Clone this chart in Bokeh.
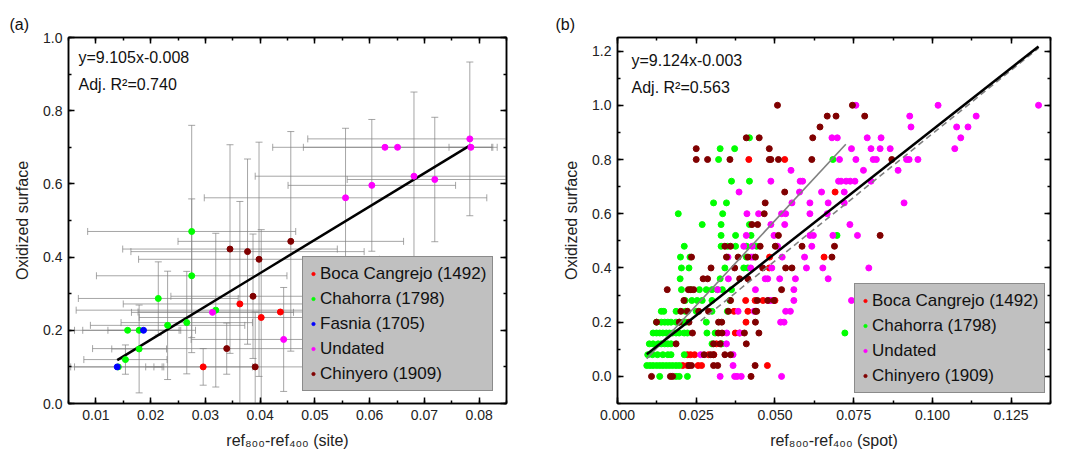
import math
from bokeh.plotting import figure
from bokeh.models import (Label, LinearAxis, SingleIntervalTicker, Range1d,
                          NumeralTickFormatter)
from bokeh.layouts import row
from bokeh.embed import file_html
from bokeh.resources import INLINE

FONT = "Liberation Sans"

# ---------------- panel (a): site means with error bars ----------------
boca_site_x = [0.0296, 0.0363, 0.0402, 0.0437]
boca_site_y = [0.100, 0.272, 0.235, 0.250]
boca_site_xerr = [0.009, 0.0213, 0.0223, 0.026]
boca_site_yerr = [0.05, 0.28, 0.24, 0.0]

chahorra_site_x = [0.0141, 0.0154, 0.0158, 0.0179, 0.0179, 0.0214, 0.0231, 0.0266, 0.0275, 0.0275, 0.0319]
chahorra_site_y = [0.100, 0.120, 0.200, 0.200, 0.149, 0.287, 0.2135, 0.221, 0.349, 0.470, 0.255]
chahorra_site_xerr = [0.008, 0.0076, 0.0097, 0.0103, 0.005, 0.0146, 0.0141, 0.012, 0.0174, 0.019, 0.0255]
chahorra_site_yerr = [0.0, 0.04, 0.0, 0.0, 0.12, 0.10, 0.148, 0.14, 0.21, 0.29, 0.21]

fasnia_site_x = [0.0139, 0.0187]
fasnia_site_y = [0.100, 0.200]
fasnia_site_xerr = [0.0085, 0.0065]
fasnia_site_yerr = [0.0, 0.0]

undated_site_x = [0.0313, 0.0443, 0.0556, 0.0604, 0.0628, 0.0651, 0.0681, 0.0719, 0.0783, 0.0785]
undated_site_y = [0.249, 0.175, 0.562, 0.596, 0.700, 0.700, 0.621, 0.612, 0.723, 0.700]
undated_site_xerr = [0.0148, 0.0169, 0.0258, 0.0153, 0.0205, 0.0172, 0.029, 0.016, 0.0296, 0.004]
undated_site_yerr = [0.0, 0.142, 0.19, 0.18, 0.0, 0.0, 0.23, 0.17, 0.21, 0.0]

chinyero_site_x = [0.0339, 0.0345, 0.0377, 0.0387, 0.0391, 0.0398, 0.0456]
chinyero_site_y = [0.150, 0.422, 0.415, 0.293, 0.100, 0.394, 0.443]
chinyero_site_xerr = [0.0245, 0.0196, 0.0213, 0.015, 0.02, 0.022, 0.0206]
chinyero_site_yerr = [0.07, 0.285, 0.253, 0.17, 0.15, 0.32, 0.30]

site_fit_slope = 9.105
site_fit_intercept = -0.008

# ---------------- panel (b): individual spots (rows of equal y) ----------------
boca_spot = [
    (0.80, [0.0417, 0.0531]),
    (0.68, [0.0691]),
    (0.44, [0.0483, 0.0656]),
    (0.40, [0.0482]),
    (0.28, [0.0407, 0.0437, 0.0462, 0.0500]),
    (0.24, [0.0370, 0.0414]),
    (0.20, [0.0408]),
    (0.16, [0.0374, 0.0388]),
    (0.12, [0.0314, 0.0329]),
    (0.08, [0.0222, 0.0232, 0.0245, 0.0289, 0.0306]),
    (0.04, [0.0207, 0.0222, 0.0256, 0.0267, 0.0476]),
]

chahorra_spot = [
    (0.88, [0.0419]),
    (0.84, [0.0326, 0.0372]),
    (0.80, [0.0321, 0.0684]),
    (0.72, [0.0362, 0.0419]),
    (0.64, [0.0305, 0.0346]),
    (0.60, [0.0193, 0.0334]),
    (0.56, [0.0269, 0.0329, 0.0419]),
    (0.52, [0.0329, 0.0375, 0.0424, 0.0697]),
    (0.48, [0.0212, 0.0329, 0.0350, 0.0375, 0.0410, 0.0442]),
    (0.44, [0.0200, 0.0230, 0.0409]),
    (0.40, [0.0203, 0.0227, 0.0341, 0.0401, 0.0414]),
    (0.36, [0.0199, 0.0326]),
    (0.32, [0.0203, 0.0232, 0.0260, 0.0282, 0.0300, 0.0317, 0.0333, 0.0362]),
    (0.28, [0.0215, 0.0236, 0.0253, 0.0269, 0.0300, 0.0357]),
    (0.24, [0.0139, 0.0147, 0.0186, 0.0215, 0.0250, 0.0300, 0.0349]),
    (0.20, [0.0124, 0.0139, 0.0150, 0.0160, 0.0170, 0.0186, 0.0196, 0.0207, 0.0217, 0.0282]),
    (0.16, [0.0113, 0.0124, 0.0134, 0.0144, 0.0155, 0.0165, 0.0175, 0.0186, 0.0196, 0.0212,
            0.0222, 0.0284, 0.0310, 0.0722]),
    (0.12, [0.0101, 0.0113, 0.0129, 0.0139, 0.0150, 0.0160, 0.0170, 0.0300, 0.0331]),
    (0.08, [0.0096, 0.0111, 0.0127, 0.0144, 0.0160, 0.0170, 0.0212]),
    (0.04, [0.0093, 0.0103, 0.0113, 0.0124, 0.0134, 0.0144, 0.0155, 0.0165, 0.0175, 0.0186, 0.0196]),
    (0.00, [0.0134, 0.0186, 0.0196, 0.0222]),
]

undated_spot = [
    (1.00, [0.0757, 0.1018, 0.1337]),
    (0.96, [0.0928, 0.1139]),
    (0.92, [0.0932, 0.1077, 0.1113]),
    (0.88, [0.0681, 0.0698, 0.0793, 0.0837, 0.1090]),
    (0.84, [0.0743, 0.0805, 0.0834, 0.0866, 0.1071]),
    (0.80, [0.0705, 0.0757, 0.0812, 0.0822, 0.0918, 0.0926, 0.0954]),
    (0.76, [0.0551, 0.0781, 0.0891]),
    (0.72, [0.0487, 0.0580, 0.0588, 0.0702, 0.0710, 0.0726, 0.0739, 0.0754, 0.0805]),
    (0.68, [0.0386, 0.0578, 0.0648, 0.0720]),
    (0.64, [0.0554, 0.0611, 0.0669, 0.0720, 0.0910]),
    (0.60, [0.0411, 0.0448, 0.0521, 0.0534, 0.0611, 0.0666]),
    (0.56, [0.0487, 0.0531, 0.0738]),
    (0.52, [0.0409, 0.0497, 0.0611, 0.0622, 0.0684, 0.0762]),
    (0.48, [0.0401, 0.0428, 0.0508, 0.0617]),
    (0.44, [0.0351, 0.0424, 0.0431, 0.0523, 0.0594]),
    (0.40, [0.0423, 0.0490, 0.0600, 0.0652, 0.0798]),
    (0.36, [0.0352, 0.0469, 0.0477, 0.0515, 0.0565, 0.0669]),
    (0.32, [0.0318, 0.0438, 0.0560]),
    (0.28, [0.0480, 0.0487, 0.0560, 0.0743]),
    (0.24, [0.0383, 0.0434, 0.0534, 0.0549]),
    (0.20, [0.0518, 0.0529]),
    (0.16, [0.0347, 0.0388]),
    (0.12, [0.0346]),
    (0.08, [0.0264, 0.0367]),
    (0.04, [0.0367]),
    (0.00, [0.0326, 0.0372, 0.0380, 0.0393, 0.0521]),
]

chinyero_spot = [
    (1.00, [0.0508, 0.0746]),
    (0.96, [0.0666, 0.0694, 0.0785]),
    (0.92, [0.0643]),
    (0.88, [0.0409, 0.0450, 0.0620]),
    (0.84, [0.0250, 0.0482]),
    (0.80, [0.0250, 0.0286, 0.0357, 0.0482, 0.0487, 0.0511, 0.0617, 0.0871]),
    (0.68, [0.0531]),
    (0.64, [0.0469]),
    (0.60, [0.0466]),
    (0.56, [0.0427, 0.0445]),
    (0.52, [0.0511, 0.0834]),
    (0.48, [0.0341, 0.0359, 0.0453, 0.0501, 0.0586, 0.0689]),
    (0.44, [0.0235, 0.0346, 0.0383, 0.0414, 0.0438, 0.0681]),
    (0.40, [0.0297, 0.0372, 0.0461, 0.0534, 0.0554]),
    (0.36, [0.0272, 0.0286, 0.0388, 0.0414]),
    (0.32, [0.0158, 0.0225, 0.0233, 0.0242, 0.0521]),
    (0.28, [0.0211, 0.0359, 0.0444, 0.0477, 0.0497]),
    (0.24, [0.0201, 0.0222, 0.0258, 0.0289, 0.0352, 0.0438, 0.0442]),
    (0.20, [0.0124, 0.0196, 0.0227, 0.0321, 0.0331, 0.0438]),
    (0.16, [0.0238, 0.0320, 0.0332, 0.0403, 0.0449]),
    (0.12, [0.0186, 0.0305, 0.0326, 0.0409]),
    (0.08, [0.0275, 0.0296, 0.0305, 0.0341, 0.0359]),
    (0.04, [0.0227, 0.0235, 0.0305, 0.0318, 0.0437]),
    (0.00, [0.0108, 0.0168, 0.0175, 0.0424]),
]

spot_fit_slope = 9.124
spot_fit_intercept = -0.003
gray_fit_slope, gray_fit_intercept, gray_fit_xrange = 12.52, -0.0513, (0.0093, 0.0725)
dash_fit_slope, dash_fit_intercept, dash_fit_xrange = 9.38, -0.043, (0.0264, 0.1337)

COLORS = {"boca": "#ff0000", "chahorra": "#00ff00", "fasnia": "#0000ff",
          "undated": "#ff00ff", "chinyero": "#800000"}
ERR_COLOR = "#808080"


def flatten(rows):
    xs, ys = [], []
    for yv, xrow in rows:
        for xv in xrow:
            xs.append(xv)
            ys.append(yv)
    return xs, ys


def style_axes(p, xticker, yticker, xfmt, yfmt, xlabel, ylabel):
    bx = p.below[0]
    ly = p.left[0]
    top = LinearAxis(ticker=xticker)
    right = LinearAxis(ticker=yticker)
    p.add_layout(top, "above")
    p.add_layout(right, "right")
    bx.ticker = xticker
    ly.ticker = yticker
    for ax in [bx, ly, top, right]:
        ax.axis_line_width = 1.5
        ax.axis_line_color = "black"
        ax.major_tick_in = 6
        ax.major_tick_out = 0
        ax.minor_tick_in = 3
        ax.minor_tick_out = 0
        ax.major_tick_line_width = 1.5
        ax.minor_tick_line_width = 1.5
        ax.major_tick_line_color = "black"
        ax.minor_tick_line_color = "black"
        ax.major_label_text_font = FONT
        ax.major_label_text_font_size = "14px"
        ax.major_label_text_color = "#222222"
        ax.major_label_standoff = 6
    for ax in [top, right]:
        ax.major_label_text_font_size = "0px"
        ax.major_label_text_alpha = 0
        ax.major_label_standoff = 0
    bx.formatter = NumeralTickFormatter(format=xfmt)
    ly.formatter = NumeralTickFormatter(format=yfmt)
    for ax, lab in [(bx, xlabel), (ly, ylabel)]:
        ax.axis_label = lab
        ax.axis_label_text_font = FONT
        ax.axis_label_text_font_size = "16px"
        ax.axis_label_text_font_style = "normal"
        ax.axis_label_text_color = "#222222"
        ax.axis_label_standoff = 9
    p.xgrid.visible = False
    p.ygrid.visible = False
    p.outline_line_color = "black"
    p.outline_line_width = 1.5


def style_title(p, text, offset):
    p.title.text = text
    p.title.align = "left"
    p.title.offset = offset
    p.title.text_font = FONT
    p.title.text_font_size = "16px"
    p.title.text_font_style = "normal"
    p.title.text_color = "#111111"
    p.title.standoff = 9


def style_legend(p, loc):
    lg = p.legend[0]
    lg.location = loc
    lg.label_text_font = FONT
    lg.label_text_font_size = "17px"
    lg.label_text_color = "#111111"
    lg.label_height = 21
    lg.glyph_height = 21
    lg.glyph_width = 8
    lg.label_standoff = 3
    lg.spacing = 4
    lg.padding = 6
    lg.margin = 0
    lg.background_fill_color = "#c0c0c0"
    lg.background_fill_alpha = 1.0
    lg.border_line_color = "#555555"
    lg.border_line_width = 1


def add_errorbars(p, xs, ys, xe, ye):
    vx, vy0, vy1 = [], [], []
    hx0, hx1, hy = [], [], []
    for x, y, ex, ey in zip(xs, ys, xe, ye):
        if ey > 0:
            vx.append(x); vy0.append(y - ey); vy1.append(y + ey)
        if ex > 0:
            hx0.append(x - ex); hx1.append(x + ex); hy.append(y)
    p.segment(x0=vx, y0=vy0, x1=vx, y1=vy1, line_color=ERR_COLOR, line_alpha=0.7, line_width=1)
    p.scatter(x=vx + vx, y=vy0 + vy1, marker="dash", size=7, line_color=ERR_COLOR,
              line_alpha=0.7, line_width=1)
    p.segment(x0=hx0, y0=hy, x1=hx1, y1=hy, line_color=ERR_COLOR, line_alpha=0.7, line_width=1)
    p.scatter(x=hx0 + hx1, y=hy + hy, marker="dash", size=7, angle=math.pi / 2,
              line_color=ERR_COLOR, line_alpha=0.7, line_width=1)


# ================= figure (a) =================
pa = figure(width=530, height=458, output_backend="svg", toolbar_location=None,
            x_range=Range1d(0.005, 0.085), y_range=Range1d(0.0, 1.0),
            min_border_left=68, min_border_right=24, min_border_top=37, min_border_bottom=53)
pa.background_fill_color = "white"
pa.border_fill_color = "white"

site_series = [
    ("Boca Cangrejo (1492)", "boca", boca_site_x, boca_site_y, boca_site_xerr, boca_site_yerr),
    ("Chahorra (1798)", "chahorra", chahorra_site_x, chahorra_site_y, chahorra_site_xerr, chahorra_site_yerr),
    ("Fasnia (1705)", "fasnia", fasnia_site_x, fasnia_site_y, fasnia_site_xerr, fasnia_site_yerr),
    ("Undated", "undated", undated_site_x, undated_site_y, undated_site_xerr, undated_site_yerr),
    ("Chinyero (1909)", "chinyero", chinyero_site_x, chinyero_site_y, chinyero_site_xerr, chinyero_site_yerr),
]
for _, _, xs, ys, xe, ye in site_series:
    add_errorbars(pa, xs, ys, xe, ye)

all_site_x = [v for s in site_series for v in s[2]]
fx = [min(all_site_x), max(all_site_x)]
pa.line(x=fx, y=[site_fit_slope * v + site_fit_intercept for v in fx], line_color="black", line_width=2.5)

for name, key, xs, ys, _, _ in site_series:
    pa.scatter(x=xs, y=ys, size=6, fill_color=COLORS[key], line_color=COLORS[key], legend_label=name)

style_axes(pa, SingleIntervalTicker(interval=0.01, num_minor_ticks=2),
           SingleIntervalTicker(interval=0.2, num_minor_ticks=2),
           "0.00", "0.0", "ref\u2088\u2080\u2080-ref\u2084\u2080\u2080 (site)", "Oxidized surface")
style_legend(pa, (234, 12))
style_title(pa, "(a)", -59)

for txt, yy in [("y=9.105x-0.008", 346), ("Adj. R\u00b2=0.740", 319)]:
    pa.add_layout(Label(x=10, y=yy, x_units="screen", y_units="screen", text=txt,
                        text_font=FONT, text_font_size="16px", text_baseline="middle",
                        text_color="#111111"))

# ================= figure (b) =================
pb = figure(width=538, height=458, output_backend="svg", toolbar_location=None,
            x_range=Range1d(0.0, 0.1375), y_range=Range1d(-0.1, 1.25),
            min_border_left=87, min_border_right=18, min_border_top=36, min_border_bottom=55)
pb.background_fill_color = "white"
pb.border_fill_color = "white"

spot_series = [
    ("Boca Cangrejo (1492)", "boca", boca_spot),
    ("Chahorra (1798)", "chahorra", chahorra_spot),
    ("Undated", "undated", undated_spot),
    ("Chinyero (1909)", "chinyero", chinyero_spot),
]
all_spot_x = []
for name, key, rows in spot_series:
    xs, ys = flatten(rows)
    all_spot_x += xs
    pb.scatter(x=xs, y=ys, size=6, fill_color=COLORS[key], line_color=COLORS[key], legend_label=name)

gx = list(gray_fit_xrange)
pb.line(x=gx, y=[gray_fit_slope * v + gray_fit_intercept for v in gx], line_color="#808080", line_width=1.6)
dx = list(dash_fit_xrange)
pb.line(x=dx, y=[dash_fit_slope * v + dash_fit_intercept for v in dx], line_color="#808080",
        line_width=1.6, line_dash="6 4")
sx = [min(all_spot_x), max(all_spot_x)]
pb.line(x=sx, y=[spot_fit_slope * v + spot_fit_intercept for v in sx], line_color="black", line_width=2.5)

style_axes(pb, SingleIntervalTicker(interval=0.025, num_minor_ticks=2),
           SingleIntervalTicker(interval=0.2, num_minor_ticks=2),
           "0.000", "0.0", "ref\u2088\u2080\u2080-ref\u2084\u2080\u2080 (spot)", "Oxidized surface")
style_legend(pb, (237, 10))
style_title(pb, "(b)", -62)

for txt, yy in [("y=9.124x-0.003", 343), ("Adj. R\u00b2=0.563", 316)]:
    pb.add_layout(Label(x=14, y=yy, x_units="screen", y_units="screen", text=txt,
                        text_font=FONT, text_font_size="16px", text_baseline="middle",
                        text_color="#111111"))

layout = row(pa, pb)
open("out.html", "w").write(file_html(layout, INLINE))
